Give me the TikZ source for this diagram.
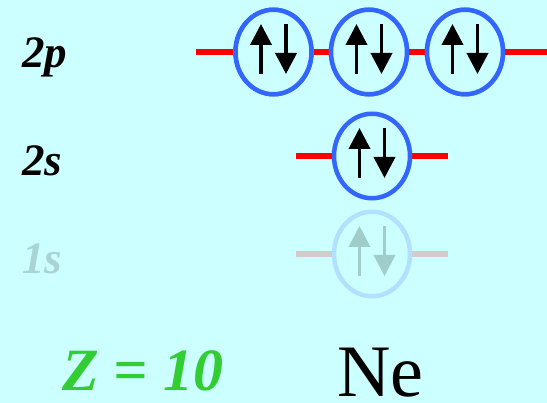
\documentclass[tikz,border=0pt]{standalone}
\usepackage{fontspec}
\setmainfont{Liberation Serif}
\usetikzlibrary{shapes.geometric,arrows.meta}
\definecolor{bgc}{RGB}{204,255,255}
\definecolor{orbblue}{RGB}{51,102,255}
\definecolor{lvlred}{RGB}{255,0,0}
\definecolor{fadeblue}{RGB}{178,224,255}
\definecolor{fadearrow}{RGB}{160,205,202}
\definecolor{fadered}{RGB}{215,202,202}
\definecolor{fadelabel}{RGB}{170,212,212}
\definecolor{zgreen}{RGB}{50,205,50}
\tikzset{
  orb/.style={ellipse, draw=orbblue, line width=4.5pt, fill=bgc,
    minimum width=76pt, minimum height=84.5pt, inner sep=0pt},
  faded/.style={draw=fadeblue},
  lvl/.style={draw=lvlred, line width=5.5pt},
  fadelvl/.style={draw=fadered, line width=5.5pt},
  spin/.style={line width=3.8pt, -{Triangle[width=21pt,length=21pt]}},
  lab/.style={anchor=base west, inner sep=0pt, font=\fontsize{45}{50}\selectfont\bfseries\itshape},
}
\begin{document}
\begin{tikzpicture}[x=1pt,y=-1pt]
\fill[bgc] (0,0) rectangle (547,403);
\useasboundingbox (0,0) rectangle (547,403);
% 2p
\coordinate (p0) at (196,52);
\coordinate (p4) at (547,52);
\node[orb] (p1) at (273.5,52) {};
\node[orb] (p2) at (369,52) {};
\node[orb] (p3) at (465,52) {};
\draw[lvl] (p0) -- (p1.west);
\draw[lvl] (p1.east) -- (p2.west);
\draw[lvl] (p2.east) -- (p3.west);
\draw[lvl] (p3.east) -- (p4);
\node[orb] at (p1) {};
\node[orb] at (p2) {};
\node[orb] at (p3) {};
\foreach \o in {p1,p2,p3}{
  \draw[spin] ([xshift=-12.5pt,yshift=-22pt]\o.center) -- ([xshift=-12.5pt,yshift=28pt]\o.center);
  \draw[spin] ([xshift=12.5pt,yshift=28pt]\o.center) -- ([xshift=12.5pt,yshift=-22pt]\o.center);
}
% 2s
\coordinate (s0) at (296,156);
\coordinate (s2) at (448,156);
\draw[lvl] (s0) -- (s2);
\node[orb] (s1) at (372,156) {};
\draw[spin] ([xshift=-12.5pt,yshift=-22pt]s1.center) -- ([xshift=-12.5pt,yshift=28pt]s1.center);
\draw[spin] ([xshift=12.5pt,yshift=28pt]s1.center) -- ([xshift=12.5pt,yshift=-22pt]s1.center);
% 1s
\coordinate (q0) at (296,254);
\coordinate (q2) at (448,254);
\draw[fadelvl] (q0) -- (q2);
\node[orb,faded] (q1) at (372,254) {};
\draw[spin,fadearrow] ([xshift=-12.5pt,yshift=-22pt]q1.center) -- ([xshift=-12.5pt,yshift=28pt]q1.center);
\draw[spin,fadearrow] ([xshift=12.5pt,yshift=28pt]q1.center) -- ([xshift=12.5pt,yshift=-22pt]q1.center);
% labels
\node[lab] (l2p) at (22,68) {2p};
\node[lab] (l2s) at (22,176) {2s};
\node[lab,text=fadelabel] (l1s) at (22,274) {1s};
\node[anchor=base west, inner sep=0pt, text=zgreen, font=\fontsize{60}{66}\selectfont\bfseries\itshape] (z) at (62,391) {Z = 10};
\node[anchor=base west, inner sep=0pt, font=\fontsize{74}{80}\selectfont] (ne) at (337,397) {Ne};
\end{tikzpicture}
\end{document}
